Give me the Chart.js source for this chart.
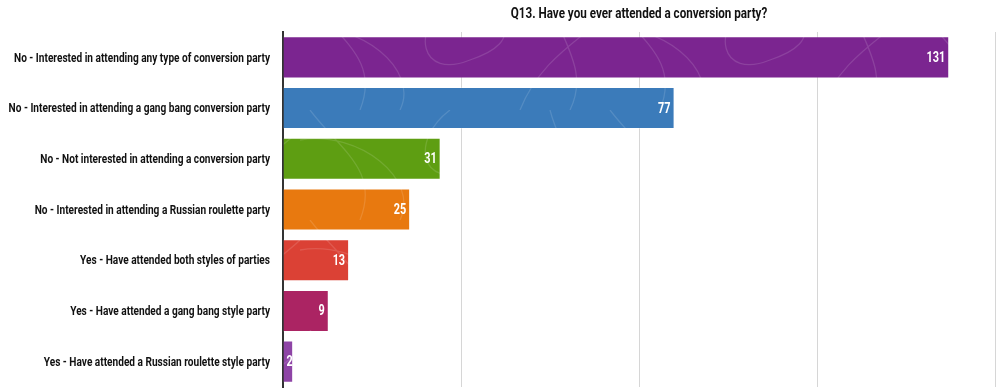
<!DOCTYPE html>
<html>
<head>
<meta charset="utf-8">
<script src="https://cdn.jsdelivr.net/npm/chart.js@4.4.1/dist/chart.umd.min.js"></script>
<style>
  html, body { margin: 0; padding: 0; background: #fff; }
  #wrap { width: 1000px; height: 391px; position: relative; }
</style>
</head>
<body>
<div id="wrap"><canvas id="chart"></canvas></div>
<script>
const categories = [
    'No - Interested in attending any type of conversion party',
    'No - Interested in attending a gang bang conversion party',
    'No - Not interested in attending a conversion party',
    'No - Interested in attending a Russian roulette party',
    'Yes - Have attended both styles of parties',
    'Yes - Have attended a gang bang style party',
    'Yes - Have attended a Russian roulette style party'
];
const counts = [131, 77, 31, 25, 13, 9, 2];
const barColors = ['#7b2590', '#3b7bba', '#5e9e12', '#e8790f', '#db4135', '#ab2463', '#8e44a6'];
const xMax = 140;
const xStep = 35;
const titleText = 'Q13. Have you ever attended a conversion party?';

const FONT = 'Roboto, "DejaVu Sans", sans-serif';
const LABEL_FONT = 'bold 13px ' + FONT;

// the original uses a condensed face; squeeze a normal one to the same width
let squeeze = 1;
(function () {
    const g = document.createElement('canvas').getContext('2d');
    g.font = LABEL_FONT;
    squeeze = 256 / g.measureText(categories[0]).width;
})();

function drawSqueezed(ctx, txt, x, y, align) {
    const w = ctx.measureText(txt).width * squeeze;
    let left = x;
    if (align === 'right') left = x - w;
    else if (align === 'center') left = x - w / 2;
    ctx.save();
    ctx.translate(left, y);
    ctx.scale(squeeze, 1);
    ctx.textAlign = 'left';
    ctx.fillText(txt, 0, 0);
    ctx.restore();
    return w;
}

// faint scribble texture laid over the bars
function makeTexture(color) {
    const c = document.createElement('canvas');
    c.width = 300; c.height = 110;
    const g = c.getContext('2d');
    g.fillStyle = color;
    g.fillRect(0, 0, c.width, c.height);
    g.strokeStyle = 'rgba(255,255,255,0.13)';
    g.lineWidth = 1.3;
    g.beginPath();
    g.moveTo(10, 0); g.bezierCurveTo(40, 40, 80, 60, 60, 110);
    g.moveTo(0, 30); g.bezierCurveTo(60, 20, 120, 70, 100, 110);
    g.moveTo(150, 0); g.bezierCurveTo(110, 30, 120, 80, 170, 60);
    g.bezierCurveTo(230, 40, 200, 10, 160, 30);
    g.moveTo(220, 110); g.bezierCurveTo(240, 60, 280, 40, 300, 20);
    g.moveTo(250, 0); g.bezierCurveTo(260, 40, 290, 70, 270, 110);
    g.stroke();
    return g.createPattern(c, 'repeat');
}

const textLayer = {
    id: 'textLayer',
    afterDraw(chart) {
        const ctx = chart.ctx;
        const a = chart.chartArea;
        const yScale = chart.scales.y;
        ctx.save();
        ctx.textBaseline = 'middle';

        // category labels
        ctx.font = LABEL_FONT;
        ctx.fillStyle = '#111';
        categories.forEach((c, i) => {
            drawSqueezed(ctx, c, a.left - 13, yScale.getPixelForValue(i) + 1, 'right');
        });

        // values inside bar ends
        ctx.font = 'bold 14px ' + FONT;
        ctx.fillStyle = '#fff';
        chart.getDatasetMeta(0).data.forEach((bar, i) => {
            const txt = String(counts[i]);
            const w = ctx.measureText(txt).width * squeeze;
            const x = Math.max(bar.x - 4, bar.base + w + 3);
            drawSqueezed(ctx, txt, x, bar.y + 1, 'right');
        });

        // title over the plot area
        ctx.font = 'bold 15px ' + FONT;
        ctx.fillStyle = '#111';
        drawSqueezed(ctx, titleText, (a.left + a.right) / 2, 14, 'center');
        ctx.restore();
    }
};

new Chart(document.getElementById('chart'), {
    type: 'bar',
    data: {
        labels: categories,
        datasets: [{
            data: counts,
            backgroundColor: barColors.map(makeTexture),
            borderColor: 'rgba(255,255,255,0.3)',
            borderWidth: 1,
            borderSkipped: 'start',
            barPercentage: 0.83,
            categoryPercentage: 1
        }]
    },
    options: {
        indexAxis: 'y',
        responsive: true,
        maintainAspectRatio: false,
        animation: false,
        layout: { padding: { top: 32, right: 5, bottom: 4, left: 0 } },
        scales: {
            x: {
                afterFit(scale) { scale.height = 0; },
                min: 0, max: xMax,
                ticks: { display: false, stepSize: xStep },
                grid: { color: '#d6d6d6', lineWidth: 1, drawTicks: false },
                border: { display: false }
            },
            y: {
                afterFit(scale) { scale.width = 283; },
                ticks: { display: false },
                grid: { display: false, drawTicks: false },
                border: { display: true, color: '#333', width: 2 }
            }
        },
        plugins: {
            legend: { display: false },
            title: { display: false },
            tooltip: { enabled: false }
        }
    },
    plugins: [textLayer]
});
</script>
</body>
</html>
